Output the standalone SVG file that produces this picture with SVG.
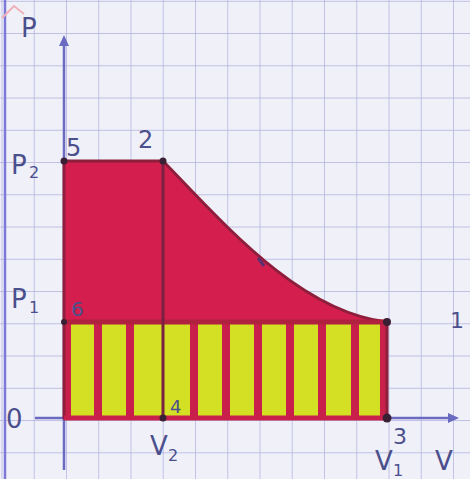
<svg xmlns="http://www.w3.org/2000/svg" width="470" height="479" viewBox="0 0 470 479">
<defs>
<style>
.grid{stroke:#aeb0dc;stroke-width:1.4}
.ink{fill:#4b4f8c;font-family:"DejaVu Sans","Liberation Sans",sans-serif}
.axis{stroke:#6a6ac0;stroke-width:2.5;fill:none}
.edge{stroke:#8e1f3c;stroke-width:3;fill:none}
.stripe{stroke:#c8204a;stroke-width:8}
.dot{fill:#3a2035}
</style>
<pattern id="g" width="32.25" height="32.25" patternUnits="userSpaceOnUse" x="1.5" y="0.8">
<path d="M0 0H32.25M0 0V32.25" class="grid"/>
</pattern>
</defs>
<rect width="470" height="479" fill="#f0f0f9"/>
<rect width="470" height="479" fill="url(#g)"/>
<line x1="5" y1="0" x2="5" y2="479" stroke="#7c7ad6" stroke-width="2.5"/>
<path d="M2 18 L14 6 L24 14" stroke="#f0b0b8" stroke-width="2" fill="none"/>
<g id="axes">
<line class="axis" x1="64" y1="470" x2="64" y2="42"/>
<path d="M59 46 L64 35 L69 46 Z" fill="#6a6ac0"/>
<line class="axis" x1="35" y1="418" x2="452" y2="418"/>
<path d="M448 413 L459 418 L448 423 Z" fill="#6a6ac0"/>
</g>
<g id="area">
<path d="M64 161 H163 C225 225 300 312 387 322 V418 H64 Z" fill="#d41f4e"/>
<rect x="64" y="322" width="323" height="96" fill="#d3e024"/>
<g class="stripe">
<line x1="67" y1="322" x2="67" y2="418"/>
<line x1="98" y1="322" x2="98" y2="418"/>
<line x1="130" y1="322" x2="130" y2="418"/>
<line x1="194" y1="322" x2="194" y2="418"/>
<line x1="226" y1="322" x2="226" y2="418"/>
<line x1="258" y1="322" x2="258" y2="418"/>
<line x1="290" y1="322" x2="290" y2="418"/>
<line x1="322" y1="322" x2="322" y2="418"/>
<line x1="355" y1="322" x2="355" y2="418"/>
<line x1="384" y1="322" x2="384" y2="418"/>
</g>
<path class="edge" d="M64 161 H163 C225 225 300 312 387 322 V418 H64 Z"/>
<line x1="64" y1="322" x2="387" y2="322" stroke="#b0203f" stroke-width="5"/>
<line x1="163" y1="161" x2="163" y2="418" stroke="#7a2040" stroke-width="3"/>
<line x1="64" y1="418" x2="387" y2="418" stroke="#c8204a" stroke-width="5"/>
<path d="M258 258 L264 266" stroke="#5a3070" stroke-width="3"/>
</g>
<g id="points">
<circle class="dot" cx="64" cy="161" r="3.5"/>
<circle class="dot" cx="163" cy="161" r="3.5"/>
<circle class="dot" cx="64" cy="322" r="3"/>
<circle class="dot" cx="163" cy="418" r="3.5"/>
<circle class="dot" cx="387" cy="322" r="4"/>
<circle class="dot" cx="387" cy="418" r="4.5"/>
</g>
<g id="labels">
<text class="ink" x="21" y="37" font-size="26">P</text>
<text class="ink" x="11" y="174" font-size="26">P</text>
<text class="ink" x="29" y="178" font-size="16">2</text>
<text class="ink" x="66" y="156" font-size="24">5</text>
<text class="ink" x="138" y="148" font-size="24">2</text>
<text class="ink" x="11" y="308" font-size="26">P</text>
<text class="ink" x="29" y="313" font-size="16">1</text>
<text class="ink" x="71" y="316" font-size="20" fill="#5a3050">6</text>
<text class="ink" x="6" y="428" font-size="26">0</text>
<text class="ink" x="170" y="413" font-size="18" fill="#7a7a30">4</text>
<text class="ink" x="150" y="455" font-size="26">V</text>
<text class="ink" x="168" y="461" font-size="16">2</text>
<text class="ink" x="393" y="444" font-size="22">3</text>
<text class="ink" x="375" y="470" font-size="26">V</text>
<text class="ink" x="393" y="476" font-size="16">1</text>
<text class="ink" x="435" y="470" font-size="26">V</text>
<text class="ink" x="450" y="328" font-size="22">1</text>
</g>
</svg>
